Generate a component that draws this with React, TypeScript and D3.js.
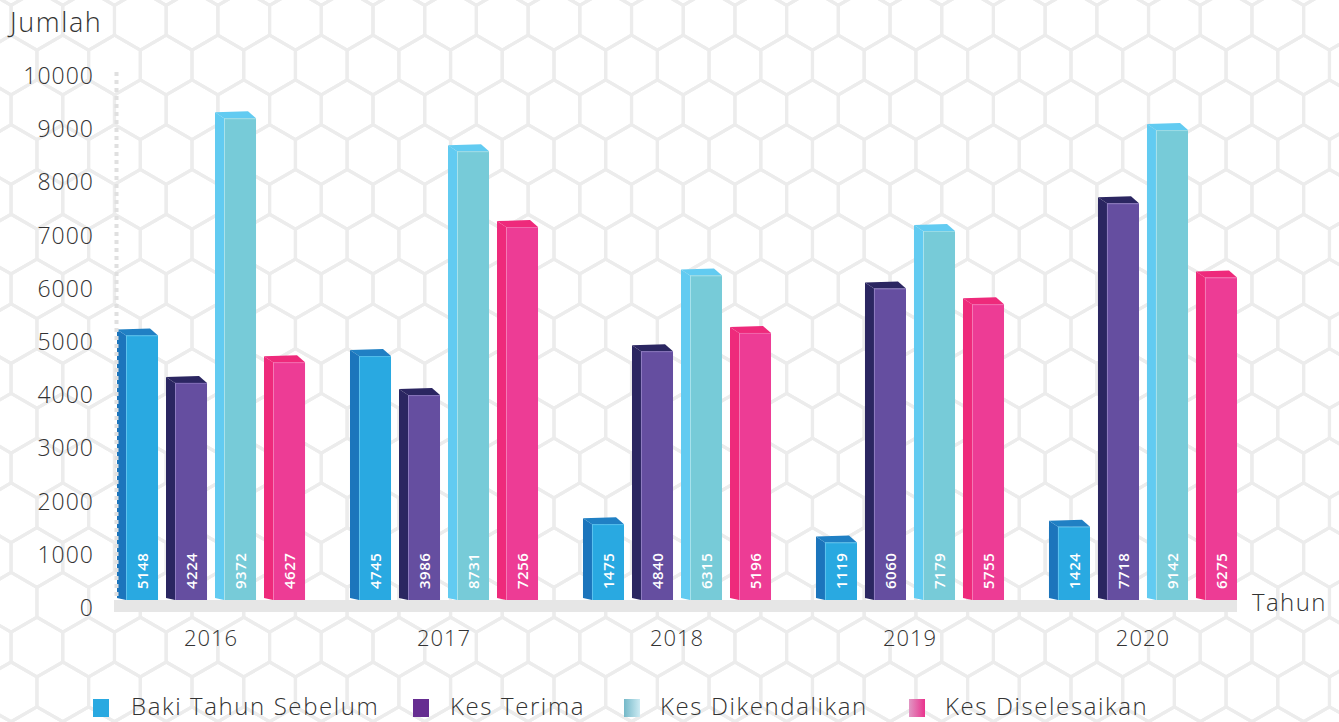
import React from "react";
import * as d3 from "d3";

const years = ["2016", "2017", "2018", "2019", "2020"];
const seriesNames = ["Baki Tahun Sebelum", "Kes Terima", "Kes Dikendalikan", "Kes Diselesaikan"];
const bakiTahunSebelum = [5148, 4745, 1475, 1119, 1424];
const kesTerima = [4224, 3986, 4840, 6060, 7718];
const kesDikendalikan = [9372, 8731, 6315, 7179, 9142];
const kesDiselesaikan = [4627, 7256, 5196, 5755, 6275];
const yTicks = [0, 1000, 2000, 3000, 4000, 5000, 6000, 7000, 8000, 9000, 10000];

const seriesValues = [bakiTahunSebelum, kesTerima, kesDikendalikan, kesDiselesaikan];

const palette = [
  { front: "#29a9e1", side: "#1c75bc", top: "#2080c4", hi: "#5cc2ee", legend: "#29a9e1" },
  { front: "#654ea0", side: "#2b2661", top: "#2b2661", hi: "#8e7cc0", legend: "#662d91" },
  { front: "#77cbd8", side: "#62cbf1", top: "#62cbf1", hi: "#a8e2ec", legend: "url(#lgTeal)" },
  { front: "#ed3c95", side: "#ee2a7b", top: "#ee2a7b", hi: "#f47ab5", legend: "url(#lgPink)" },
];

const W = 1339;
const H = 722;
const FONT = "'Open Sans', 'DejaVu Sans', sans-serif";

export default function App() {
  const baseY = 600;
  const yBar = d3.scaleLinear().domain([0, 10000]).range([baseY, 86]);
  const yLab = d3.scaleLinear().domain([0, 10000]).range([607, 75]);
  const x0 = d3.scaleBand<string>().domain(years).range([117, 1237]).paddingInner(0.193).paddingOuter(0);
  const x1 = d3
    .scaleBand<string>()
    .domain(seriesNames)
    .range([0, x0.bandwidth()])
    .paddingInner(0.163)
    .paddingOuter(0);

  const sideW = 9;
  const bw = x1.bandwidth();

  // hex background
  const hr = 29.85;
  const hw = Math.sqrt(3) * hr;
  const rowH = 1.5 * hr;
  const hexes: string[] = [];
  for (let k = -3; k <= 17; k++) {
    const cy = 65 + k * rowH;
    const off = Math.abs(k) % 2 === 1 ? hw / 2 : 0;
    for (let m = -9; m <= 20; m++) {
      const cx = 373 + m * hw + off;
      if (cx < -hw || cx > W + hw) continue;
      const pts: [number, number][] = [
        [cx, cy - hr],
        [cx + hw / 2, cy - hr / 2],
        [cx + hw / 2, cy + hr / 2],
        [cx, cy + hr],
        [cx - hw / 2, cy + hr / 2],
        [cx - hw / 2, cy - hr / 2],
      ];
      hexes.push("M" + pts.map((p) => p.join(",")).join("L") + "Z");
    }
  }

  const legendItems = [
    { sq: 93, tx: 131 },
    { sq: 413, tx: 450 },
    { sq: 624, tx: 660 },
    { sq: 909, tx: 945 },
  ];

  return (
    <svg
      width={W}
      height={H}
      style={{ position: "absolute", left: 0, top: 0, display: "block", background: "#fff" }}
      fontFamily={FONT}
    >
      <defs>
        <linearGradient id="lgTeal" x1="0" x2="1" y1="0" y2="0">
          <stop offset="0" stopColor="#74b8c8" />
          <stop offset="1" stopColor="#cdebf3" />
        </linearGradient>
        <linearGradient id="lgPink" x1="0" x2="1" y1="0" y2="0">
          <stop offset="0" stopColor="#e197c4" />
          <stop offset="1" stopColor="#e9338d" />
        </linearGradient>
      </defs>
      <rect x={0} y={0} width={W} height={H} fill="#fff" />
      <g fill="none" stroke="#ececec" strokeWidth={3.2}>
        {hexes.map((d, i) => (
          <path key={i} d={d} />
        ))}
      </g>

      {/* floor */}
      <rect x={114} y={baseY} width={1237 - 114} height={12} fill="#e6e6e6" />

      {/* bars */}
      {years.map((yr, gi) => (
        <g key={yr}>
          {seriesNames.map((sn, si) => {
            const v = seriesValues[si][gi];
            const sx = (x0(yr) ?? 0) + (x1(sn) ?? 0);
            const fx = sx + sideW;
            const fw = bw - sideW;
            const top = yBar(v);
            const c = palette[si];
            const topFace = [
              [sx, top - 6],
              [fx + fw - 8, top - 7],
              [fx + fw, top],
              [fx, top],
            ];
            const sideFace = [
              [sx, top - 6],
              [fx, top],
              [fx, baseY],
              [sx, baseY - 2],
            ];
            return (
              <g key={sn}>
                <polygon points={sideFace.map((p) => p.join(",")).join(" ")} fill={c.side} />
                <polygon points={topFace.map((p) => p.join(",")).join(" ")} fill={c.top} />
                <rect x={fx} y={top} width={fw} height={baseY - top} fill={c.front} />
                <line x1={fx + 0.5} x2={fx + 0.5} y1={top} y2={baseY} stroke={c.hi} strokeWidth={1} />
                <line x1={fx} x2={fx + fw} y1={top + 0.5} y2={top + 0.5} stroke={c.hi} strokeWidth={1} opacity={0.7} />
                <text
                  transform={`translate(${fx + fw / 2},${589}) rotate(-90)`}
                  fill="#fff"
                  fontSize={15}
                  fontWeight={600}
                  dominantBaseline="central"
                  letterSpacing={0.5}
                >
                  {v}
                </text>
              </g>
            );
          })}
        </g>
      ))}

      {/* y axis dotted line */}
      <line x1={116.5} x2={116.5} y1={72} y2={baseY} stroke="#e0e0e0" strokeWidth={4} strokeDasharray="4,4" />

      {/* y ticks */}
      {yTicks.map((t) => (
        <text
          key={t}
          x={94}
          y={yLab(t)}
          textAnchor="end"
          dominantBaseline="central"
          fontSize={23}
          fontWeight={300}
          letterSpacing={1}
          fill="#333"
        >
          {t}
        </text>
      ))}

      {/* x labels */}
      {years.map((yr) => (
        <text
          key={yr}
          x={(x0(yr) ?? 0) + x0.bandwidth() / 2}
          y={637}
          textAnchor="middle"
          dominantBaseline="central"
          fontSize={22}
          fontWeight={300}
          letterSpacing={1}
          fill="#333"
        >
          {yr}
        </text>
      ))}

      <text x={10} y={32} fontSize={27} fontWeight={300} letterSpacing={1.6} fill="#333">
        Jumlah
      </text>
      <text x={1252} y={611} fontSize={24} fontWeight={300} letterSpacing={1.4} fill="#333">
        Tahun
      </text>

      {/* legend */}
      {seriesNames.map((sn, i) => (
        <g key={sn}>
          <rect x={legendItems[i].sq} y={699} width={16} height={18} fill={palette[i].legend} />
          <text x={legendItems[i].tx} y={715} fontSize={24} fontWeight={300} letterSpacing={1.6} fill="#333">
            {sn}
          </text>
        </g>
      ))}
    </svg>
  );
}
